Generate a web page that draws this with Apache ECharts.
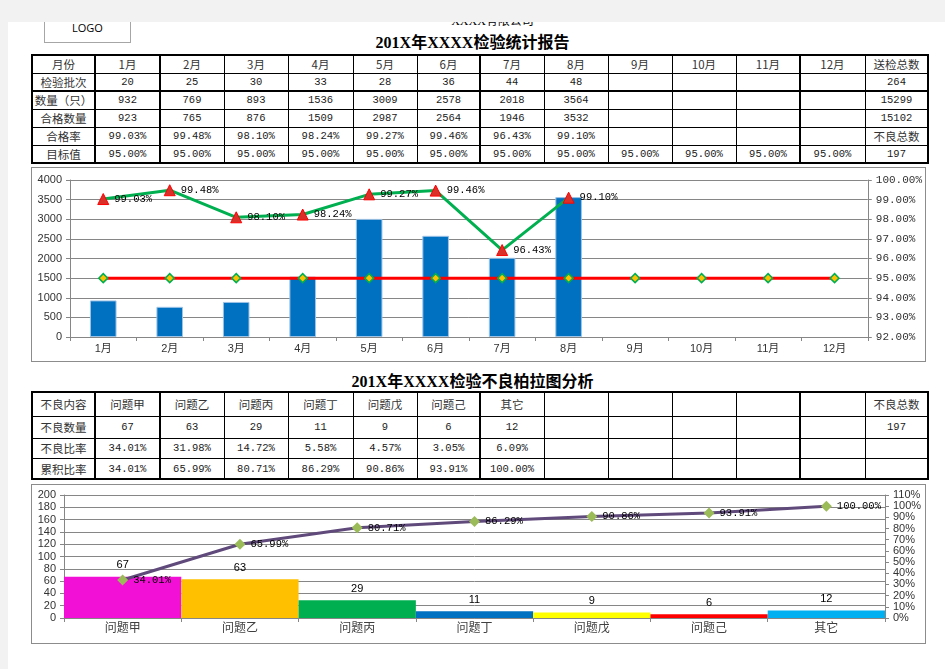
<!DOCTYPE html>
<html>
<head>
<meta charset="utf-8">
<script src="https://cdn.jsdelivr.net/npm/echarts/dist/echarts.min.js"></script>
<style>
  html, body { margin:0; padding:0; }
  body { width:945px; height:669px; position:relative; overflow:hidden; background:#fff;
         font-family:"Noto Sans CJK SC", sans-serif; }
  .mask { position:absolute; background:#f2f2f2; z-index:20; }
  .abs { position:absolute; }
  .cell { position:absolute; display:flex; align-items:center; justify-content:center;
          color:#1a1a1a; white-space:nowrap; overflow:hidden; }
  .cjk { font-family:"Noto Sans CJK SC", sans-serif; font-size:11.5px; color:#333; }
  .num { font-family:"Liberation Mono","Noto Sans CJK SC", monospace; font-size:10.5px; }
  .line { position:absolute; background:#000; }
  .title { position:absolute; left:0; width:945px; text-align:center;
           font-family:"Liberation Serif","Noto Sans CJK SC", serif; font-weight:bold; font-size:16px; color:#000; }
  .box { position:absolute; border:1px solid #8c8c8c; box-sizing:border-box; background:#fff; }
</style>
</head>
<body>
<div class="mask" style="left:0;top:0;width:945px;height:22px;"></div>
<div class="mask" style="left:0;top:0;width:8px;height:669px;"></div>

<div class="abs" style="left:44px;top:8px;width:87px;height:35px;border:1px solid #a6a6a6;box-sizing:border-box;display:flex;align-items:flex-end;justify-content:center;padding-bottom:7px;font-family:'Open Sans',sans-serif;font-size:11px;color:#000;">LOGO</div>
<div class="abs" style="left:445px;top:14px;width:95px;text-align:center;font-family:'Liberation Serif','Noto Sans CJK SC',serif;font-size:12px;line-height:14px;color:#000;">XXXX有限公司</div>

<div class="title" style="top:33px;line-height:20px;">201X年XXXX检验统计报告</div>
<div id="table1"></div>

<div class="box" style="left:31px;top:167px;width:895px;height:195px;">
  <div id="c1" style="width:893px;height:193px;"></div>
</div>

<div class="title" style="top:372px;line-height:20px;">201X年XXXX检验不良柏拉图分析</div>
<div id="table2"></div>

<div class="box" style="left:31px;top:484px;width:895px;height:160px;">
  <div id="c2" style="width:893px;height:158px;"></div>
</div>

<script>
// ---------- data ----------
const months = ['1月','2月','3月','4月','5月','6月','7月','8月','9月','10月','11月','12月'];
const batchCounts = [20, 25, 30, 33, 28, 36, 44, 48];
const quantities = [932, 769, 893, 1536, 3009, 2578, 2018, 3564];
const qualifiedCounts = [923, 765, 876, 1509, 2987, 2564, 1946, 3532];
const passRates = [99.03, 99.48, 98.10, 98.24, 99.27, 99.46, 96.43, 99.10];
const targetRates = [95, 95, 95, 95, 95, 95, 95, 95, 95, 95, 95, 95];
const batchTotal = 264;
const quantityTotal = 15299;
const qualifiedTotal = 15102;
const defectTotal = 197;

const defectItems = ['问题甲','问题乙','问题丙','问题丁','问题戊','问题己','其它'];
const defectCounts = [67, 63, 29, 11, 9, 6, 12];
const defectRatios = [34.01, 31.98, 14.72, 5.58, 4.57, 3.05, 6.09];
const cumulativeRatios = [34.01, 65.99, 80.71, 86.29, 90.86, 93.91, 100.00];

const leftTicks1 = { min: 0, max: 4000, interval: 500 };
const rightTicks1 = { min: 92, max: 100, interval: 1 };
const leftTicks2 = { min: 0, max: 200, interval: 20 };
const rightTicks2 = { min: 0, max: 110, interval: 10 };

// ---------- styles ----------
const defectColors = ['#F20FD6','#FFC000','#00B050','#0070C0','#FFFF00','#FF0000','#00B0F0'];
const colX = [32, 95, 160, 224, 288, 353, 417, 480, 544, 608, 672, 736, 800, 865, 928];
const thickCols = [0, 1, 2, 7, 12, 14];

function pct(v) { return v.toFixed(2) + '%'; }
function pad(arr, n) { const a = arr.map(String); while (a.length < n) a.push(''); return a; }

function buildTable(containerId, rowY, rows, thickRows) {
  const c = document.getElementById(containerId);
  let html = '';
  rows.forEach((row, r) => {
    row.forEach((txt, k) => {
      if (txt === '') return;
      const isCjk = /[\u4e00-\u9fff\uff08\uff09]/.test(txt);
      html += `<div class="cell ${isCjk ? 'cjk' : 'num'}" style="left:${colX[k]}px;top:${rowY[r]}px;width:${colX[k+1]-colX[k]}px;height:${rowY[r+1]-rowY[r]}px;">${txt}</div>`;
    });
  });
  const x0 = colX[0], x1 = colX[colX.length - 1];
  const y0 = rowY[0], y1 = rowY[rowY.length - 1];
  rowY.forEach((y, i) => {
    const w = thickRows.includes(i) ? 2.5 : 1;
    html += `<div class="line" style="left:${x0 - 1}px;top:${y - w/2}px;width:${x1 - x0 + 2}px;height:${w}px;"></div>`;
  });
  colX.forEach((x, i) => {
    const w = thickCols.includes(i) ? 2.5 : 1;
    html += `<div class="line" style="left:${x - w/2}px;top:${y0 - 1}px;width:${w}px;height:${y1 - y0 + 2}px;"></div>`;
  });
  c.innerHTML = html;
}

const table1Rows = [
  ['月份', ...months, '送检总数'],
  ['检验批次', ...pad(batchCounts, 12), String(batchTotal)],
  ['数量（只）', ...pad(quantities, 12), String(quantityTotal)],
  ['合格数量', ...pad(qualifiedCounts, 12), String(qualifiedTotal)],
  ['合格率', ...pad(passRates.map(pct), 12), '不良总数'],
  ['目标值', ...targetRates.map(pct), String(defectTotal)]
];
buildTable('table1', [55, 73, 91, 109, 127, 145, 163], table1Rows, [0, 2, 6]);

const table2Rows = [
  ['不良内容', ...pad(defectItems, 12), '不良总数'],
  ['不良数量', ...pad(defectCounts, 12), String(defectTotal)],
  ['不良比率', ...pad(defectRatios.map(pct), 12), ''],
  ['累积比率', ...pad(cumulativeRatios.map(pct), 12), '']
];
buildTable('table2', [392, 416, 438, 458, 479], table2Rows, [0, 4]);

// ---------- charts ----------
const axisGray = '#868686';
const fontStack = '"Liberation Sans","Noto Sans CJK SC",sans-serif';
const monoStack = '"Liberation Mono","Noto Sans CJK SC",monospace';

const chart1 = echarts.init(document.getElementById('c1'));
chart1.setOption({
  animation: false,
  textStyle: { fontFamily: fontStack },
  grid: { left: 38, right: 55, top: 12, bottom: 24 },
  xAxis: {
    type: 'category', data: months, boundaryGap: true,
    axisLine: { lineStyle: { color: axisGray } },
    axisTick: { show: true, length: 4, lineStyle: { color: axisGray } },
    axisLabel: { color: '#333', fontSize: 11, margin: 6, interval: 0 }
  },
  yAxis: [
    {
      type: 'value', min: leftTicks1.min, max: leftTicks1.max, interval: leftTicks1.interval,
      axisLine: { show: true, lineStyle: { color: axisGray } },
      axisTick: { show: true, length: 4, lineStyle: { color: axisGray } },
      axisLabel: { color: '#333', fontSize: 11, margin: 8, formatter: v => String(v) },
      splitLine: { lineStyle: { color: axisGray } }
    },
    {
      type: 'value', position: 'right', min: rightTicks1.min, max: rightTicks1.max, interval: rightTicks1.interval,
      axisLine: { show: true, lineStyle: { color: axisGray } },
      axisTick: { show: true, length: 4, lineStyle: { color: axisGray } },
      axisLabel: { color: '#333', fontSize: 11, margin: 8, fontFamily: monoStack, formatter: v => v.toFixed(2) + '%' },
      splitLine: { show: false }
    }
  ],
  series: [
    {
      type: 'bar', data: quantities, barWidth: '40%',
      itemStyle: { color: '#0070C0', borderColor: '#9DC3E6', borderWidth: 1 }
    },
    {
      type: 'line', yAxisIndex: 1, data: targetRates,
      lineStyle: { color: '#FF0000', width: 3 },
      symbol: 'diamond', symbolSize: 9,
      itemStyle: { color: '#FFC000', borderColor: '#00B050', borderWidth: 1.5 },
      z: 3
    },
    {
      type: 'line', yAxisIndex: 1, data: passRates,
      lineStyle: { color: '#00B050', width: 3 },
      symbol: 'triangle', symbolSize: 11,
      itemStyle: { color: '#D9302A', borderColor: '#FF0000', borderWidth: 1 },
      label: { show: true, position: 'right', distance: 5, color: '#000', fontSize: 10.5, fontFamily: monoStack,
               formatter: p => p.value.toFixed(2) + '%' },
      z: 4
    }
  ]
});

const chart2 = echarts.init(document.getElementById('c2'));
chart2.setOption({
  animation: false,
  textStyle: { fontFamily: fontStack },
  grid: { left: 32, right: 40, top: 10, bottom: 25 },
  xAxis: {
    type: 'category', data: defectItems, boundaryGap: true,
    axisLine: { lineStyle: { color: axisGray } },
    axisTick: { show: true, length: 4, lineStyle: { color: axisGray } },
    axisLabel: { color: '#404040', fontSize: 12, margin: 5, interval: 0 }
  },
  yAxis: [
    {
      type: 'value', min: leftTicks2.min, max: leftTicks2.max, interval: leftTicks2.interval,
      axisLine: { show: true, lineStyle: { color: axisGray } },
      axisTick: { show: true, length: 4, lineStyle: { color: axisGray } },
      axisLabel: { color: '#333', fontSize: 11, margin: 8, formatter: v => String(v) },
      splitLine: { lineStyle: { color: axisGray } }
    },
    {
      type: 'value', position: 'right', min: rightTicks2.min, max: rightTicks2.max, interval: rightTicks2.interval,
      axisLine: { show: true, lineStyle: { color: axisGray } },
      axisTick: { show: true, length: 4, lineStyle: { color: axisGray } },
      axisLabel: { color: '#333', fontSize: 11, margin: 8, formatter: '{value}%' },
      splitLine: { show: false }
    }
  ],
  series: [
    {
      type: 'bar', barCategoryGap: '0%',
      data: defectCounts.map((v, i) => ({ value: v, itemStyle: { color: defectColors[i] } })),
      label: { show: true, position: 'top', distance: 6, color: '#000', fontSize: 11 }
    },
    {
      type: 'line', yAxisIndex: 1, data: cumulativeRatios,
      lineStyle: { color: '#604A7B', width: 3 },
      symbol: 'diamond', symbolSize: 11,
      itemStyle: { color: '#9BBB59' },
      label: { show: true, position: 'right', distance: 5, color: '#000', fontSize: 10.5, fontFamily: monoStack,
               formatter: p => p.value.toFixed(2) + '%' },
      z: 4
    }
  ]
});
</script>
</body>
</html>
